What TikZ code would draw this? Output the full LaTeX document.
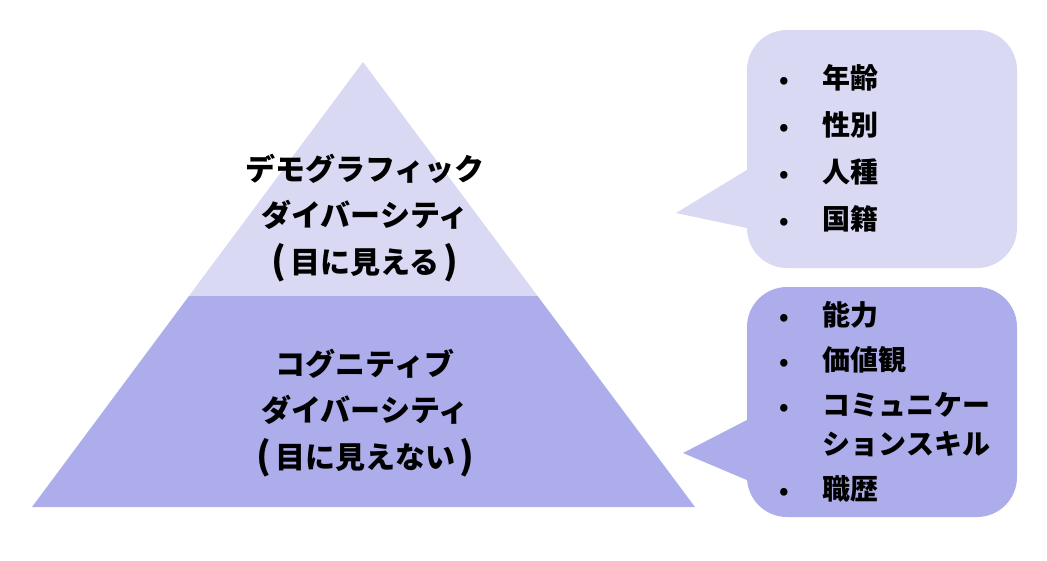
\documentclass[tikz,border=0pt]{standalone}
\usepackage{fontspec}
\setmainfont{Noto Sans CJK JP}
\usepackage{tikz}
\usetikzlibrary{calc}
\definecolor{lightlav}{RGB}{217,217,244}
\definecolor{darklav}{RGB}{173,173,235}
\tikzset{
	layer/.style={font=\bfseries\fontsize{30pt}{46.5pt}\selectfont, align=center, inner sep=0pt},
	bubble/.style={rounded corners=40pt, minimum width=270pt, inner sep=0pt},
	items/.style={font=\bfseries\fontsize{28pt}{39pt}\selectfont, inner sep=0pt, anchor=west}
}
\newcommand{\itembul}{\fontsize{24pt}{39pt}\selectfont\textbullet}
\newcommand{\tallpar}[1]{{\fontsize{37pt}{46.5pt}\selectfont\raisebox{-1pt}{#1}}}
\begin{document}
\begin{tikzpicture}[x=1pt,y=-1pt]
		\useasboundingbox (0,0) rectangle (1047,560);
		\coordinate (apex) at (363,62);
		\coordinate (bl) at (32,507);
		\coordinate (br) at (695,507);
		\coordinate (ml) at ($(apex)!0.526!(bl)$);
		\coordinate (mr) at ($(apex)!0.526!(br)$);
		
		\fill[lightlav] (apex) -- (mr) -- (ml) -- cycle;
		\fill[darklav] (ml) -- (mr) -- (br) -- (bl) -- cycle;
		
		\node[layer] (demo) at (365,218) {デモグラフィック\\ダイバーシティ\\\tallpar{(}\hspace{4pt}目に見える\hspace{4pt}\tallpar{)}};
		\node[layer] (cogn) at (365,413) {コグニティブ\\ダイバーシティ\\\tallpar{(}\hspace{4pt}目に見えない\hspace{4pt}\tallpar{)}};
		
		% callouts
		\node[bubble, fill=lightlav, minimum height=238pt] (b1) at (882,149) {};
		\coordinate (tip1) at (676,213);
		\fill[lightlav] ([yshift=-21pt]b1.west) -- (tip1) -- ([yshift=-79pt]b1.west) -- cycle;
		
		\node[bubble, fill=darklav, minimum height=230pt] (b2) at (882,402) {};
		\coordinate (tip2) at (683,453);
		\fill[darklav] ([yshift=-18pt]b2.west) -- (tip2) -- ([yshift=-78pt]b2.west) -- cycle;
		
		\node[items] (list1) at (779,151) {\begin{tabular}{@{}l@{\hspace{34pt}}l@{}}
			\itembul & 年齢\\[8pt]
			\itembul & 性別\\[8pt]
			\itembul & 人種\\[8pt]
			\itembul & 国籍
		\end{tabular}};
		\node[items] (list2) at (779,405) {\begin{tabular}{@{}l@{\hspace{34pt}}l@{}}
			\itembul & 能力\\[6pt]
			\itembul & 価値観\\[6pt]
			\itembul & コミュニケー\\
			& ションスキル\\[6pt]
			\itembul & 職歴
		\end{tabular}};
	\end{tikzpicture}
\end{document}
